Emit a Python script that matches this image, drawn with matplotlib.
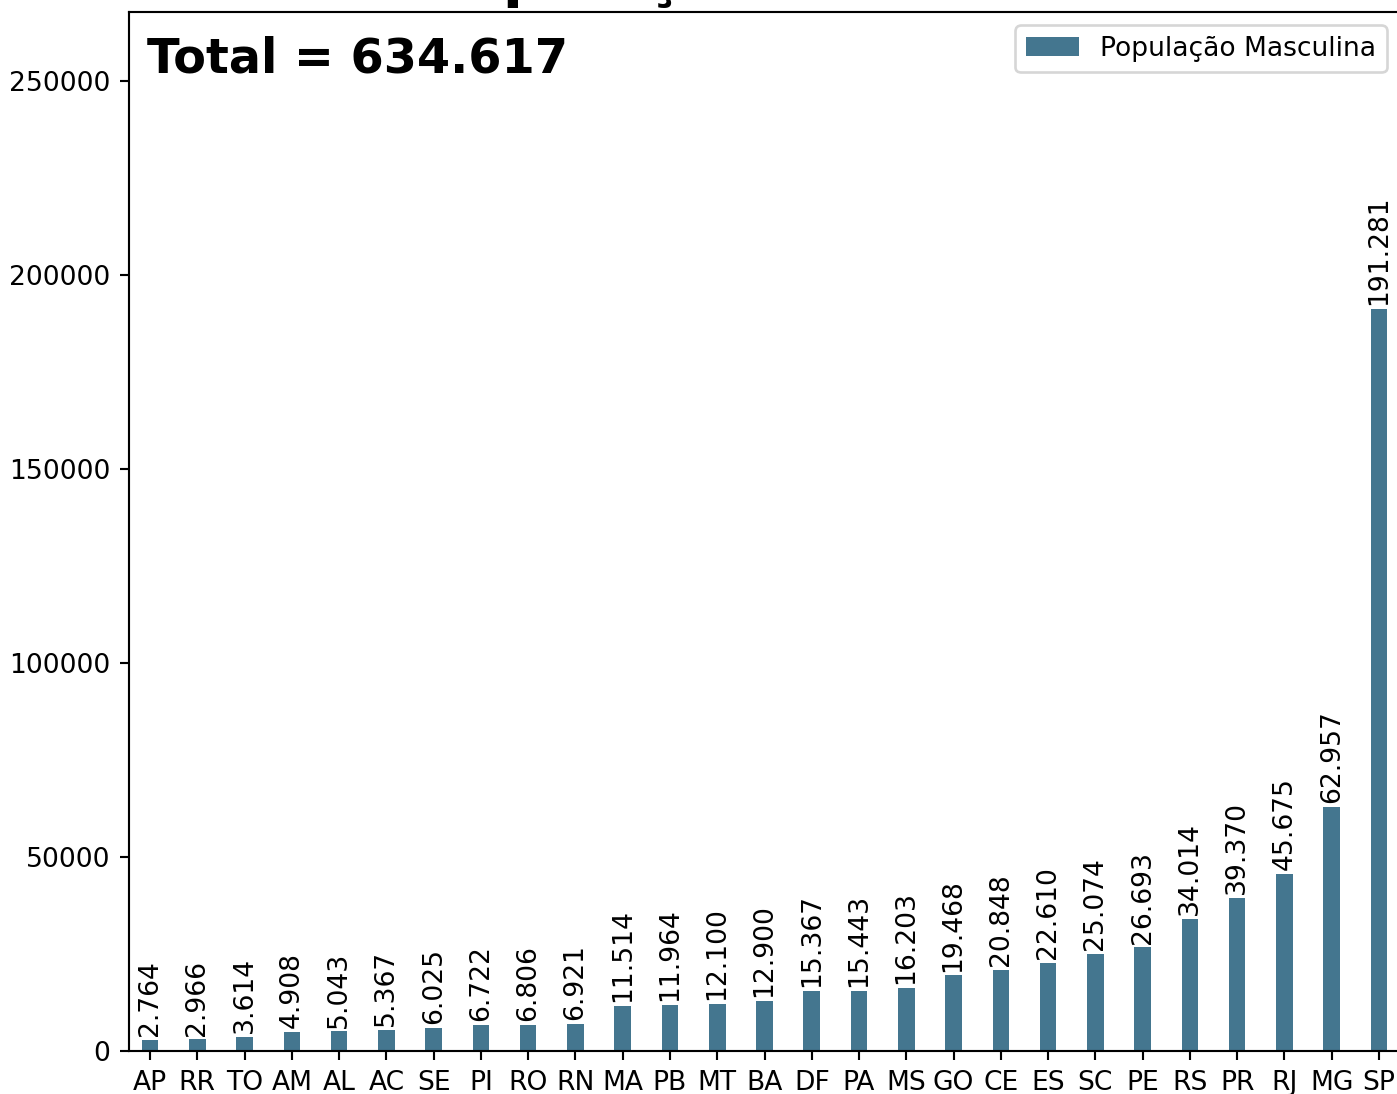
import matplotlib
matplotlib.use("Agg")
import matplotlib.pyplot as plt

estados = ["AP", "RR", "TO", "AM", "AL", "AC", "SE", "PI", "RO", "RN", "MA", "PB", "MT",
           "BA", "DF", "PA", "MS", "GO", "CE", "ES", "SC", "PE", "RS", "PR", "RJ", "MG", "SP"]
pop_masc = [2764, 2966, 3614, 4908, 5043, 5367, 6025, 6722, 6806, 6921, 11514, 11964, 12100,
            12900, 15367, 15443, 16203, 19468, 20848, 22610, 25074, 26693, 34014, 39370,
            45675, 62957, 191281]

cor = "#44768f"


def fmt_br(v):
    return f"{v:,}".replace(",", ".")


dpi = 191
fig = plt.figure(figsize=(1397 / dpi, 1094 / dpi), dpi=dpi)
ax = fig.add_axes([129 / 1397, 43 / 1094, 1271 / 1397, 1039 / 1094])

x = range(len(estados))
ax.bar(x, pop_masc, width=0.35, color=cor, label="População Masculina")
for i, v in zip(x, pop_masc):
    ax.text(i, v + 1000, fmt_br(v), rotation=90, ha="center", va="bottom", fontsize=10)

ax.set_xticks(list(x))
ax.set_xticklabels(estados)
ax.set_xlim(-0.445, len(estados) - 1 + 0.445)
ax.set_ylim(0, max(pop_masc) * 1.4)

ax.set_title("População Masculina", fontsize=22, fontweight="bold")
ax.text(0.014, 0.942, "Total = " + fmt_br(sum(pop_masc)), transform=ax.transAxes,
        fontsize=18, fontweight="bold", va="baseline")
ax.legend(loc="upper right")

fig.savefig("out.png", dpi=dpi)
